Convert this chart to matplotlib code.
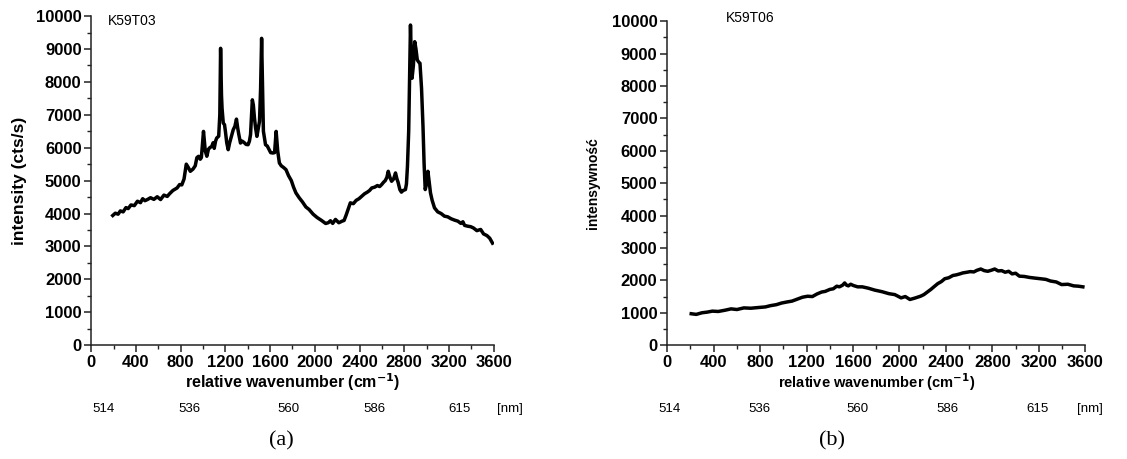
import matplotlib
matplotlib.use("Agg")
import matplotlib.pyplot as plt
from matplotlib.ticker import MultipleLocator
from matplotlib.transforms import blended_transform_factory

plt.rcParams['font.family'] = ['Liberation Sans', 'DejaVu Sans']

# panel (a): K59T03 spectrum
wn_a = [192, 215, 240, 260, 285, 310, 330, 355, 385, 413, 440, 460, 480, 502,
        530, 560, 590, 620, 650, 680, 700, 730, 768, 790, 810, 830, 850, 868,
        886, 910, 930, 945, 960, 975, 985, 1004, 1020, 1034, 1048, 1060, 1078,
        1090, 1100, 1112, 1122, 1140, 1150, 1157, 1165, 1170, 1181, 1192, 1200,
        1212, 1225, 1238, 1250, 1262, 1270, 1285, 1299, 1310, 1320, 1335, 1350,
        1370, 1385, 1403, 1415, 1425, 1441, 1450, 1460, 1470, 1482, 1495, 1505,
        1515, 1524, 1533, 1540, 1559, 1575, 1590, 1605, 1624, 1640, 1654, 1668,
        1683, 1700, 1720, 1742, 1765, 1790, 1810, 1831, 1860, 1890, 1920, 1949,
        1985, 2020, 2060, 2097, 2120, 2140, 2160, 2185, 2215, 2244, 2262, 2280,
        2300, 2318, 2345, 2370, 2395, 2421, 2445, 2470, 2490, 2510, 2535, 2560,
        2580, 2598, 2615, 2630, 2645, 2657, 2672, 2687, 2705, 2722, 2735, 2745,
        2761, 2775, 2790, 2811, 2820, 2829, 2840, 2845, 2856, 2863, 2870, 2882,
        2894, 2905, 2917, 2930, 2941, 2955, 2968, 2978, 2988, 3000, 3012, 3025,
        3035, 3050, 3071, 3100, 3130, 3160, 3189, 3220, 3250, 3280, 3307, 3325,
        3340, 3366, 3395, 3420, 3450, 3484, 3510, 3540, 3565, 3590]
int_a = [3940, 4010, 3980, 4080, 4050, 4180, 4150, 4260, 4240, 4374, 4330, 4450,
         4390, 4425, 4480, 4430, 4510, 4425, 4560, 4520, 4600, 4700, 4778, 4880,
         4870, 5050, 5500, 5400, 5283, 5350, 5450, 5700, 5738, 5650, 5700, 6495,
         5900, 5740, 5950, 6000, 6040, 6150, 5980, 6200, 6293, 6350, 7000, 9020,
         7600, 7200, 6748, 6700, 6500, 6150, 5940, 6150, 6300, 6450, 6546, 6650,
         6869, 6600, 6400, 6142, 6200, 6150, 6100, 6091, 6200, 6400, 7455, 7300,
         6900, 6600, 6344, 6600, 6800, 7800, 9323, 7800, 6500, 6091, 6050, 5950,
         5850, 5839, 5850, 6495, 5900, 5536, 5450, 5400, 5334, 5150, 5000, 4800,
         4627, 4480, 4350, 4200, 4122, 3980, 3880, 3790, 3698, 3720, 3780, 3700,
         3820, 3720, 3768, 3790, 3950, 4150, 4324, 4300, 4400, 4450, 4526, 4600,
         4650, 4700, 4778, 4800, 4850, 4820, 4879, 4950, 5000, 5100, 5283, 5100,
         4980, 5050, 5233, 5050, 4950, 4728, 4650, 4700, 4728, 4900, 5435, 6500,
         7500, 9727, 8800, 8111, 8500, 9222, 9000, 8667, 8600, 8566, 7800, 6647,
         5500, 4728, 4900, 5283, 4900, 4627, 4400, 4172, 4050, 4000, 3920, 3900,
         3840, 3800, 3768, 3700, 3750, 3640, 3617, 3600, 3560, 3480, 3516, 3380,
         3330, 3250, 3100]

# panel (b): K59T06 spectrum
wn_b = [207, 250, 300, 345, 389, 440, 500, 550, 601, 660, 720, 780, 845, 890,
        940, 985, 1027, 1075, 1120, 1165, 1209, 1250, 1290, 1330, 1361, 1400,
        1430, 1460, 1483, 1510, 1528, 1545, 1560, 1580, 1604, 1640, 1680, 1730,
        1786, 1850, 1908, 1960, 2014, 2050, 2090, 2130, 2181, 2210, 2240, 2270,
        2303, 2330, 2360, 2390, 2424, 2460, 2490, 2520, 2546, 2580, 2610, 2640,
        2667, 2700, 2730, 2760, 2789, 2820, 2850, 2880, 2910, 2940, 2970, 3000,
        3032, 3075, 3120, 3165, 3214, 3260, 3300, 3350, 3396, 3450, 3500, 3540,
        3579]
int_b = [970, 950, 1000, 1020, 1050, 1040, 1080, 1120, 1100, 1150, 1140, 1160,
         1180, 1220, 1250, 1300, 1330, 1360, 1420, 1480, 1510, 1500, 1580, 1640,
         1660, 1720, 1740, 1820, 1800, 1850, 1920, 1850, 1830, 1880, 1840, 1800,
         1800, 1760, 1700, 1650, 1590, 1560, 1460, 1500, 1410, 1450, 1510, 1560,
         1640, 1720, 1820, 1900, 1960, 2050, 2080, 2150, 2170, 2200, 2230, 2250,
         2270, 2260, 2310, 2350, 2300, 2280, 2310, 2350, 2290, 2300, 2250, 2280,
         2200, 2220, 2130, 2120, 2090, 2070, 2050, 2030, 1980, 1950, 1870, 1880,
         1830, 1820, 1800]

# wavelength row under each x axis
nm_labels = ['514', '536', '560', '586', '615', '[nm]']
nm_pos_a = [0.03, 0.245, 0.49, 0.705, 0.915, 1.04]
nm_pos_b = [0.005, 0.22, 0.455, 0.67, 0.885, 1.01]

fig = plt.figure(figsize=(11.27, 4.59), dpi=100)
ax1 = fig.add_axes([0.081, 0.248, 0.357, 0.717])
ax2 = fig.add_axes([0.592, 0.248, 0.371, 0.706])


def style_axes(ax, ylabel, ylabel_size, xlabel_size):
    ax.set_xlim(0, 3600)
    ax.set_ylim(0, 10000)
    ax.xaxis.set_major_locator(MultipleLocator(400))
    ax.xaxis.set_minor_locator(MultipleLocator(200))
    ax.yaxis.set_major_locator(MultipleLocator(1000))
    ax.yaxis.set_minor_locator(MultipleLocator(500))
    for side in ['top', 'right']:
        ax.spines[side].set_visible(False)
    for side in ['left', 'bottom']:
        ax.spines[side].set_linewidth(1.1)
        ax.spines[side].set_color('#222222')
    ax.tick_params(which='major', direction='out', length=5, width=1.1,
                   labelsize=12, pad=2, colors='#222222', labelcolor='black')
    ax.tick_params(which='minor', direction='out', length=3, width=1.0,
                   colors='#222222')
    for lab in ax.get_xticklabels() + ax.get_yticklabels():
        lab.set_fontweight('bold')
    ax.set_xlabel('relative wavenumber (cm$^{\\mathbf{-1}}$)', fontsize=xlabel_size,
                  fontweight='bold', labelpad=1)
    ax.set_ylabel(ylabel, fontsize=ylabel_size, fontweight='bold')


ax1.plot(wn_a, int_a, color='black', lw=2.5, solid_joinstyle='round')
style_axes(ax1, 'intensity (cts/s)', 12.5, 11.5)
ax1.yaxis.set_label_coords(-0.16, 0.5)
ax1.text(0.04, 1.005, 'K59T03', transform=ax1.transAxes, fontsize=10,
         va='top', ha='left')

ax2.plot(wn_b, int_b, color='black', lw=2.5, solid_joinstyle='round')
style_axes(ax2, 'intensywność', 10, 10.5)
ax2.yaxis.set_label_coords(-0.16, 0.5)
ax2.text(0.14, 1.03, 'K59T06', transform=ax2.transAxes, fontsize=10,
         va='top', ha='left')

for ax, positions in [(ax1, nm_pos_a), (ax2, nm_pos_b)]:
    trans = blended_transform_factory(ax.transAxes, fig.transFigure)
    for lab, pos in zip(nm_labels, positions):
        ax.text(pos, 0.11, lab, transform=trans, fontsize=9.5,
                ha='center', va='center')

fig.text(0.25, 0.04, '(a)', fontsize=16, family='Liberation Serif',
         ha='center', va='center')
fig.text(0.738, 0.04, '(b)', fontsize=16, family='Liberation Serif',
         ha='center', va='center')

fig.savefig('out.png', dpi=100)
